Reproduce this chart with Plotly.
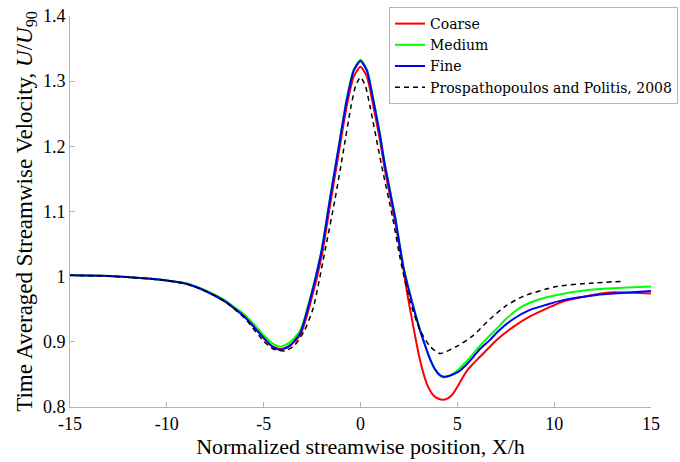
import plotly.graph_objects as go

# ---- data ----
fine_x = [-15, -13, -11, -10, -9, -8, -7, -6.5, -6, -5.5, -5.0, -4.6, -4.16, -3.7, -3.12, -2.6, -2.0, -1.58, -1.15, -0.71, -0.35, 0,
          0.33, 0.66, 1.0, 1.27, 1.78, 2.21, 2.56, 3.07, 3.33, 3.59, 3.85, 4.1, 4.3, 4.6, 5.0, 5.4, 5.83, 6.17, 6.69, 7.03, 7.89, 8.75,
          9.6, 10.46, 12.2, 13.5, 15]
fine_y = [1.002, 1.001, 0.997, 0.994, 0.989, 0.978, 0.962, 0.951, 0.939, 0.923, 0.906, 0.894, 0.8875, 0.893, 0.913, 0.965, 1.041, 1.118, 1.194, 1.271, 1.316, 1.331,
          1.316, 1.271, 1.218, 1.169, 1.092, 1.015, 0.972, 0.918, 0.895, 0.874, 0.858, 0.849, 0.8465, 0.848, 0.853, 0.863, 0.877, 0.889, 0.903, 0.914, 0.935, 0.949,
          0.957, 0.964, 0.972, 0.975, 0.978]

medium_x = [-15, -13, -11, -10, -9, -8, -7, -6.5, -6, -5.5, -5.0, -4.6, -4.16, -3.7, -3.12, -2.6, -2.0, -1.58, -1.15, -0.71, -0.35, 0,
            0.33, 0.66, 1.0, 1.27, 1.78, 2.21, 2.56, 3.07, 3.33, 3.59, 3.85, 4.1, 4.25, 4.6, 5.0, 5.4, 5.83, 6.17, 6.69, 7.03, 7.55, 8.4,
            9.2, 10.13, 11.85, 13.5, 15]
medium_y = [1.002, 1.001, 0.997, 0.994, 0.990, 0.979, 0.964, 0.953, 0.942, 0.927, 0.910, 0.899, 0.8925, 0.898, 0.917, 0.967, 1.043, 1.120, 1.196, 1.273, 1.318, 1.333,
            1.318, 1.273, 1.220, 1.171, 1.094, 1.017, 0.974, 0.919, 0.895, 0.873, 0.857, 0.848, 0.8455, 0.848, 0.856, 0.868, 0.882, 0.894, 0.910, 0.920, 0.936, 0.955,
            0.965, 0.972, 0.980, 0.983, 0.985]

coarse_x = [-15, -13, -11, -10, -9, -8, -7, -6.5, -6, -5.5, -5.0, -4.6, -4.16, -3.7, -3.12, -2.6, -2.0, -1.58, -1.15, -0.71, -0.35, 0,
            0.33, 0.66, 1.0, 1.27, 1.78, 2.21, 2.39, 2.73, 3.07, 3.42, 3.76, 4.0, 4.28, 4.55, 4.79, 5.14, 5.48, 5.8, 6.17, 7.03, 7.89, 8.75,
            9.6, 10.46, 12.2, 13.06, 15]
coarse_y = [1.002, 1.001, 0.997, 0.994, 0.989, 0.978, 0.962, 0.951, 0.939, 0.923, 0.906, 0.894, 0.889, 0.893, 0.910, 0.958, 1.032, 1.108, 1.185, 1.262, 1.307, 1.322,
            1.307, 1.262, 1.210, 1.162, 1.086, 1.013, 0.978, 0.923, 0.872, 0.836, 0.818, 0.813, 0.811, 0.814, 0.821, 0.838, 0.855, 0.866, 0.877, 0.903, 0.923, 0.939,
            0.951, 0.962, 0.973, 0.976, 0.974]

ref_x = [-15, -13, -11, -10, -9, -8, -7, -6, -5, -4.5, -3.9, -3.4, -2.9, -2.44, -1.8, -1.32, -0.9, -0.5, -0.25, 0,
         0.25, 0.5, 1.1, 1.65, 2.1, 2.56, 3.07, 3.59, 4.1, 4.97, 5.83, 6.69, 7.5, 8.41, 10.13, 11.85, 13.57]
ref_y = [1.002, 1.001, 0.997, 0.994, 0.989, 0.978, 0.962, 0.937, 0.901, 0.889, 0.886, 0.895, 0.917, 0.952, 1.045, 1.118, 1.190, 1.260, 1.293, 1.306,
         1.293, 1.260, 1.169, 1.092, 1.020, 0.962, 0.918, 0.893, 0.882, 0.893, 0.910, 0.935, 0.955, 0.970, 0.985, 0.990, 0.993]

series_names = ["Coarse", "Medium", "Fine", "Prospathopoulos and Politis, 2008"]

x_ticks = [-15, -10, -5, 0, 5, 10, 15]
y_ticks = [0.8, 0.9, 1.0, 1.1, 1.2, 1.3, 1.4]
y_tick_text = ["0.8", "0.9", "1", "1.1", "1.2", "1.3", "1.4"]

FONT = "Liberation Serif"
LEGEND_FONT = "DejaVu Serif"
SM = 0.6

fig = go.Figure()
fig.add_trace(go.Scatter(x=coarse_x, y=coarse_y, name=series_names[0], mode="lines",
                         line=dict(color="#ff0000", width=2, shape="spline", smoothing=SM)))
fig.add_trace(go.Scatter(x=medium_x, y=medium_y, name=series_names[1], mode="lines",
                         line=dict(color="#00ff00", width=2, shape="spline", smoothing=SM)))
fig.add_trace(go.Scatter(x=fine_x, y=fine_y, name=series_names[2], mode="lines",
                         line=dict(color="#0000ff", width=2, shape="spline", smoothing=SM)))
fig.add_trace(go.Scatter(x=ref_x, y=ref_y, name=series_names[3], mode="lines",
                         line=dict(color="#000000", width=1.5, dash="5px,4px", shape="spline", smoothing=SM)))

axis_common = dict(showgrid=False, zeroline=False, showline=True, linecolor="#b4b4b4", linewidth=1,
                   ticks="inside", ticklen=5, tickcolor="#b4b4b4", mirror=False,
                   tickfont=dict(family=FONT, size=18, color="black"))

fig.update_layout(
    width=680, height=462,
    margin=dict(l=70, r=29, t=16, b=55, autoexpand=False),
    paper_bgcolor="white", plot_bgcolor="white",
    font=dict(family=FONT, color="black", size=17),
    showlegend=True,
    legend=dict(x=1.0465, y=1.023, xanchor="right", yanchor="top",
                bgcolor="white", bordercolor="#b4b4b4", borderwidth=1,
                font=dict(family=LEGEND_FONT, size=14, color="black"),
                itemwidth=30, tracegroupgap=0),
)
fig.update_xaxes(range=[-15, 15], tickvals=x_ticks, ticktext=[str(v) for v in x_ticks],
                 title=dict(text="Normalized streamwise position, X/h", font=dict(family=FONT, size=22), standoff=2),
                 **axis_common)
fig.update_yaxes(range=[0.8, 1.4], tickvals=y_ticks, ticktext=y_tick_text,
                 title=dict(text="Time Averaged Streamwise Velocity, <i>U</i>/<i>U</i><sub>90</sub>",
                            font=dict(family=FONT, size=23), standoff=3),
                 **axis_common)

fig.write_html("out.html")
